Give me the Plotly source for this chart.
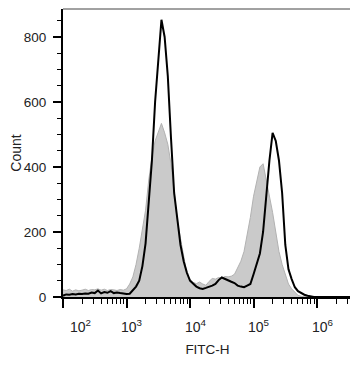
import plotly.graph_objects as go
import numpy as np

# Bin positions (log10 of FITC-H)
fitc_log = [2.00, 2.05, 2.10, 2.15, 2.20, 2.25, 2.30, 2.35, 2.40, 2.45,
            2.50, 2.55, 2.60, 2.65, 2.70, 2.75, 2.80, 2.85, 2.90, 2.95,
            3.00, 3.05, 3.10, 3.15, 3.20, 3.25, 3.30, 3.35, 3.40, 3.45,
            3.50, 3.55, 3.60, 3.65, 3.70, 3.75, 3.80, 3.85, 3.90, 3.95,
            4.00, 4.05, 4.10, 4.15, 4.20, 4.25, 4.30, 4.35, 4.40, 4.45,
            4.50, 4.55, 4.60, 4.65, 4.70, 4.75, 4.80, 4.85, 4.90, 4.95,
            5.00, 5.05, 5.10, 5.15, 5.20, 5.25, 5.30, 5.35, 5.40, 5.45,
            5.50, 5.55, 5.60, 5.65, 5.70, 5.75, 5.80, 5.85, 5.90, 5.95,
            6.00, 6.05, 6.10, 6.15, 6.20, 6.25, 6.30, 6.35, 6.40, 6.45,
            6.50, 6.55]

# Stained sample (black line)
stained_counts = [4, 8, 7, 9, 8, 10, 9, 11, 10, 14,
                  12, 20, 11, 15, 13, 18, 12, 14, 12, 10,
                  9, 10, 20, 32, 50, 95, 165, 280, 420, 600,
                  740, 853, 800, 680, 490, 320, 240, 160, 110, 75,
                  50, 40, 32, 27, 25, 28, 31, 35, 40, 52,
                  60, 55, 50, 47, 43, 35, 32, 30, 35, 40,
                  70, 100, 134, 200, 320, 420, 505, 480, 420, 320,
                  160, 85, 55, 30, 18, 12, 7, 4, 1, 0,
                  0, 0, 0, 0, 0, 0, 0, 0, 0, 0,
                  0, 0]

# Control sample (grey filled)
control_counts = [22, 20, 24, 18, 22, 19, 21, 24, 20, 23,
                  22, 25, 21, 24, 20, 23, 22, 20, 23, 21,
                  25, 40, 62, 100, 150, 210, 267, 360, 430, 480,
                  510, 534, 505, 470, 410, 320, 235, 180, 120, 72,
                  55, 45, 41, 46, 40, 36, 48, 57, 55, 60,
                  58, 63, 62, 64, 70, 88, 110, 140, 190, 245,
                  310, 360, 400, 410, 360, 320, 260, 200, 140, 100,
                  68, 40, 25, 14, 5, 2, 0, 0, 0, 0,
                  0, 0, 0, 0, 0, 0, 0, 0, 0, 0,
                  0, 0]

x_major_exp = [2, 3, 4, 5, 6]
y_major = [0, 200, 400, 600, 800]
y_minor = [50, 100, 150, 250, 300, 350, 450, 500, 550, 650, 700, 750, 850]

x_vals = 10 ** np.array(fitc_log)
x_major = [10 ** e for e in x_major_exp]
x_minor = [k * 10 ** e for e in [2, 3, 4, 5, 6] for k in range(2, 10)]

FONT = "Liberation Sans, Arial, sans-serif"
TXT = "#222222"

fig = go.Figure()
fig.add_trace(go.Scatter(
    x=x_vals, y=control_counts, mode="lines",
    line=dict(color="#b2b2b2", width=1),
    fill="tozeroy", fillcolor="#cacaca",
    showlegend=False, hoverinfo="skip"))
fig.add_trace(go.Scatter(
    x=x_vals, y=stained_counts, mode="lines",
    line=dict(color="#000000", width=2),
    showlegend=False, hoverinfo="skip"))

# page body has an 8px default margin, so the figure is 8px smaller
fig.update_layout(
    width=350, height=357,
    margin=dict(l=55, r=6, t=1, b=68),
    paper_bgcolor="white", plot_bgcolor="white",
    font=dict(family=FONT, size=13.5, color=TXT),
    xaxis=dict(
        type="log", range=[2, 6.55],
        showgrid=False, zeroline=False,
        showline=True, linecolor="black", linewidth=2,
        tickmode="array", tickvals=x_major,
        ticks="outside", ticklen=9, tickwidth=2, tickcolor="black",
        showticklabels=False,
        minor=dict(tickmode="array", tickvals=x_minor, ticks="outside",
                   ticklen=5, tickwidth=1, tickcolor="black", showgrid=False),
        title=dict(text="FITC-H", font=dict(size=13.5, color=TXT), standoff=38),
    ),
    yaxis=dict(
        range=[0, 886],
        showgrid=False, zeroline=False,
        showline=True, linecolor="black", linewidth=2,
        tickmode="array", tickvals=y_major,
        ticks="outside", ticklen=8, tickwidth=2, tickcolor="black",
        ticklabelstandoff=4,
        tickfont=dict(size=13.5, color=TXT),
        minor=dict(tickmode="array", tickvals=y_minor, ticks="outside",
                   ticklen=4, tickwidth=1, tickcolor="black", showgrid=False),
        title=dict(text="Count", font=dict(size=14, color=TXT), standoff=6),
    ),
)

# thin top and right frame
fig.add_shape(type="line", xref="paper", yref="paper", x0=0, x1=1, y0=1, y1=1,
              line=dict(color="#444444", width=1))
fig.add_shape(type="line", xref="paper", yref="paper", x0=1, x1=1, y0=0, y1=1,
              line=dict(color="#444444", width=1))

# x tick labels (10^n), "10" centered on tick, first one nudged inward
for e in x_major_exp:
    fig.add_annotation(
        x=e, xref="x", y=0, yref="paper",
        text=f"10<sup>{e}</sup>", showarrow=False,
        xanchor="left", yanchor="top",
        xshift=(5 if e == 2 else -7.5), yshift=-18,
        font=dict(family=FONT, size=14, color=TXT))

fig.write_html("out.html")
